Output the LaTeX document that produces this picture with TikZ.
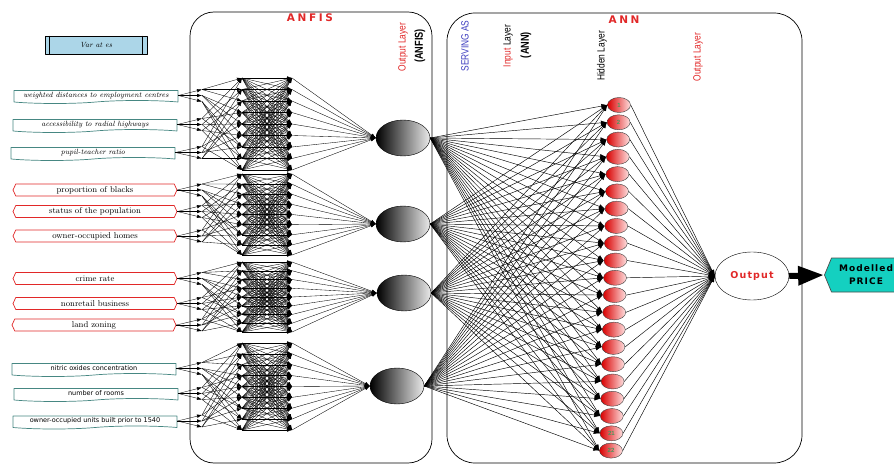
\documentclass[tikz,border=0pt]{standalone}
\usepackage{fontspec}
\setsansfont{Liberation Sans}
\newfontfamily\narrowfont[FakeStretch=0.8]{Liberation Sans}
\newfontfamily\headfont[LetterSpace=25]{DejaVu Sans}
\newfontfamily\widefont[LetterSpace=12]{DejaVu Sans}
\newfontfamily\boxfont{DejaVu Sans}
\usetikzlibrary{shapes.symbols,shapes.geometric,arrows.meta,calc}

\definecolor{tl}{RGB}{70,135,130}
\definecolor{br}{RGB}{225,40,40}
\definecolor{vb}{RGB}{172,214,232}
\definecolor{pc}{RGB}{20,208,192}
\definecolor{lg}{RGB}{70,150,90}
\definecolor{sb}{RGB}{60,60,190}

\begin{document}
\begin{tikzpicture}[
x=1pt, y=-1pt,
line join=round,
]
\useasboundingbox (0,0) rectangle (894,465);

\tikzset{
	tb/.style={tape, tape bend top=none, tape bend bottom=in and out, tape bend height=3pt, draw=tl, line width=0.7pt, fill=white, minimum width=164pt, minimum height=13pt, inner sep=1pt},
	rb/.style={signal, signal to=west and east, signal pointer angle=130, draw=br, line width=0.7pt, fill=white, minimum width=164pt, minimum height=12pt, inner sep=1pt, font=\fontsize{8.5}{9}\selectfont},
	e/.style={-{Latex[length=5pt,width=3.5pt]}, line width=0.35pt},
	e2/.style={-{Latex[length=6pt,width=4.5pt]}, line width=0.45pt},
	fz/.style={ellipse, draw, minimum width=54pt, minimum height=36pt, left color=black, right color=white!92!black},
	hn/.style={ellipse, draw=black!75, minimum width=23pt, minimum height=15pt, inner sep=0pt, left color=red!85!black, right color=red!12},
	nl/.style={font=\sffamily\bfseries\fontsize{6}{6}\selectfont, text=lg},
	lay/.style={rotate=90, font=\narrowfont\fontsize{10.5}{11}\selectfont},
	lb/.style={rotate=90, font=\narrowfont\bfseries\fontsize{11.5}{12}\selectfont},
}

% panels
\draw[rounded corners=24pt, line width=0.7pt] (190,12) rectangle (432,463);
\draw[rounded corners=28pt, line width=0.7pt] (447,13) rectangle (802,463);
\node[font=\headfont\bfseries\fontsize{10.5}{11}\selectfont, text=br] (tanfis) at (310,18) {ANFIS};
\node[font=\headfont\bfseries\fontsize{10.5}{11}\selectfont, text=br] (tann) at (624,20) {ANN};
\node[lay, text=br] (lo1) at (403,47) {Output Layer};
\node[lb] (lo1b) at (420,46) {(ANFIS)};
\node[lay, text=sb] (lserv) at (465,46) {SERVING AS};
\node[lay] (lin) at (508,46) {{\color{br}Input} Layer};
\node[lb] (linb) at (526,45) {(ANN)};
\node[lay] (lhid) at (602,56) {Hidden Layer};
\node[lay, text=br] (lo2) at (698,57) {Output Layer};

% variables
\node[draw, fill=vb, line width=0.7pt, minimum width=102pt, minimum height=18pt, font=\itshape\fontsize{7.5}{8}\selectfont] (var) at (96,45) {Var at es};
\draw[line width=0.7pt] ($(var.north west)+(5,0)$) -- ($(var.south west)+(5,0)$);
\draw[line width=0.7pt] ($(var.north east)+(-5,0)$) -- ($(var.south east)+(-5,0)$);

\node[tb, font=\itshape\fontsize{7.5}{8}\selectfont] (in1) at (96,95.5) {weighted distances to employment centres};
\node[tb, font=\itshape\fontsize{7.5}{8}\selectfont] (in2) at (95,124.5) {accessibility to radial highways};
\node[tb, font=\itshape\fontsize{7.5}{8}\selectfont] (in3) at (93,152.5) {pupil-teacher ratio};
\node[rb] (in4) at (95,190) {proportion of blacks};
\node[rb] (in5) at (95,211.5) {status of the population};
\node[rb] (in6) at (95,236) {owner-occupied homes};
\node[rb] (in7) at (95,278.5) {crime rate};
\node[rb] (in8) at (95,303.5) {nonretail business};
\node[rb] (in9) at (94,325) {land zoning};
\node[tb, font=\boxfont\fontsize{6.5}{7}\selectfont] (in10) at (94,368.5) {nitric oxides concentration};
\node[tb, font=\boxfont\fontsize{6.5}{7}\selectfont] (in11) at (96,393.5) {number of rooms};
\node[tb, font=\boxfont\fontsize{6.5}{7}\selectfont] (in12) at (95,421) {owner-occupied units built prior to 1540};

% ANFIS outputs
\node[fz] (f1) at (403,138) {};
\node[fz] (f2) at (403,224) {};
\node[fz] (f3) at (404,293) {};
\node[fz] (f4) at (397,386) {};

% membership functions
\foreach \p/\y in {1/95.5,2/124.5,3/152.5,4/190,5/211.5,6/236,7/278.5,8/303.5,9/325,10/368.5,11/393.5,12/421}{
	\foreach \m in {1,2,3}{
		\coordinate (m\p-\m) at (202,{\y+6*(\m-2)});
		\draw[e] (in\p.east) -- (m\p-\m);
	}
}

% rules and normalisation
\foreach \g/\ya/\yb in {1/78/170,2/174/255,3/262/332,4/343/430}{
	\foreach \q in {1,...,9}{
		\coordinate (r\g-\q) at (242,{\ya+(\q-1)*(\yb-\ya)/8});
		\coordinate (n\g-\q) at (292,{\ya+(\q-1)*(\yb-\ya)/8});
	}
}
\foreach \g in {1,...,4}{
	\foreach \i in {1,2,3}{
		\foreach \m in {1,2,3}{
			\foreach \j in {0,1,2}{
				\pgfmathtruncatemacro\p{3*(\g-1)+\i}
				\pgfmathtruncatemacro\rr{\i==1 ? 3*(\m-1)+\j+1 : (\i==2 ? 3*\j+\m : 3*\j+mod(\m+\j-1,3)+1)}
				\draw[e] (m\p-\m) -- (r\g-\rr);
			}
		}
	}
	\foreach \q in {1,...,9}{
		\foreach \s in {1,...,9}
			\draw[e] (r\g-\q) -- (n\g-\s);
		\draw[e] (n\g-\q) -- (f\g.west);
	}
}

% hidden layer
\foreach \h in {1,...,21}
	\node[hn] (h\h) at ({619-8*(\h-1)/20},{105+17.28*(\h-1)}) {};
\node[nl] at (h1) {1};
\node[nl] at (h2) {2};
\node[nl] at (h20) {21};
\node[nl] at (h21) {22};

\node[draw, ellipse, fill=white, minimum width=74pt, minimum height=48pt, inner sep=0pt, text=br, font=\widefont\bfseries\fontsize{9.5}{10}\selectfont] (out) at (752,276) {Output};

\foreach \g in {1,...,4}
	\foreach \h in {1,...,21}
		\draw[e2] (f\g.east) -- (h\h.west);
\foreach \h in {1,...,21}
	\draw[e2] (h\h.east) -- (out.west);

% result
\node[signal, signal to=west, signal pointer angle=135, fill=pc, draw=black!70, line width=0.7pt, minimum width=76pt, minimum height=34pt, inner sep=0pt, align=center, font=\widefont\bfseries\fontsize{9}{13}\selectfont] (price) at (866,275) {Modelled\\PRICE};
\draw[line width=6pt, -{Triangle[length=26pt,width=18pt]}] (out.east) -- (price.west);

\end{tikzpicture}
\end{document}
